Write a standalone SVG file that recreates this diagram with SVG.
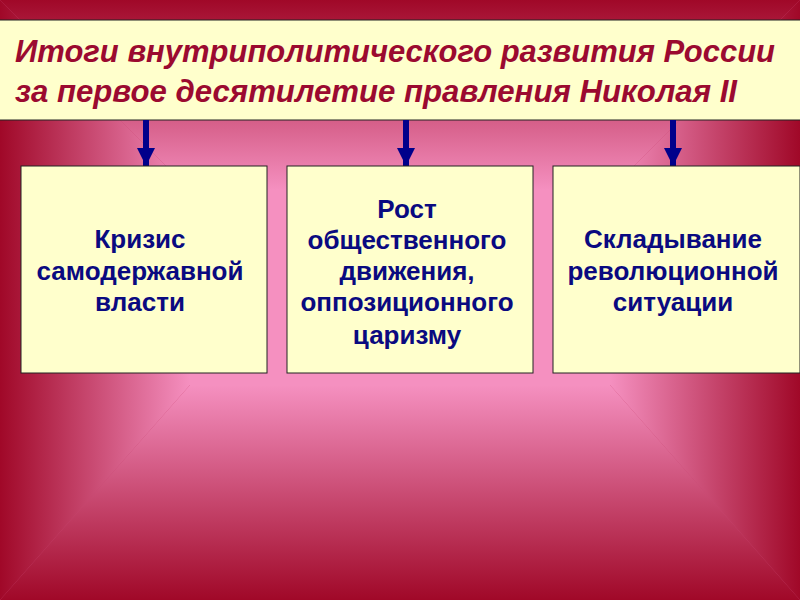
<svg xmlns="http://www.w3.org/2000/svg" width="800" height="600" viewBox="0 0 800 600">
<defs>
<linearGradient id="gT" gradientUnits="userSpaceOnUse" x1="0" y1="0" x2="0" y2="190">
<stop offset="0" stop-color="#A00828"/><stop offset="0.5" stop-color="#CA4C74"/><stop offset="1" stop-color="#F590C0"/>
</linearGradient>
<linearGradient id="gB" gradientUnits="userSpaceOnUse" x1="0" y1="600" x2="0" y2="385">
<stop offset="0" stop-color="#A00828"/><stop offset="0.5" stop-color="#CA4C74"/><stop offset="1" stop-color="#F590C0"/>
</linearGradient>
<linearGradient id="gL" gradientUnits="userSpaceOnUse" x1="0" y1="0" x2="190" y2="0">
<stop offset="0" stop-color="#A00828"/><stop offset="0.5" stop-color="#CA4C74"/><stop offset="1" stop-color="#F590C0"/>
</linearGradient>
<linearGradient id="gR" gradientUnits="userSpaceOnUse" x1="800" y1="0" x2="610" y2="0">
<stop offset="0" stop-color="#A00828"/><stop offset="0.5" stop-color="#CA4C74"/><stop offset="1" stop-color="#F590C0"/>
</linearGradient>
<marker id="ah" viewBox="0 0 10 10" refX="10" refY="5" markerWidth="3" markerHeight="3" orient="auto" markerUnits="strokeWidth">
<path d="M0,0 L10,5 L0,10 Z" fill="#00008B"/>
</marker>
<style>
.box{fill:#FFFFCC;stroke:#222;stroke-width:1}
.t{font-family:"Liberation Sans",Arial,sans-serif;font-weight:bold;font-size:26px;fill:#0A0A80;text-anchor:middle}
.ti{font-family:"Liberation Sans Narrow","Liberation Sans",Arial,sans-serif;font-weight:bold;font-style:italic;font-size:31px;fill:#9B0A30}
.c{stroke:#00008B;stroke-width:6;fill:none}
</style>
</defs>
<g id="background">
<rect width="800" height="600" fill="#C84470"/>
<rect x="190" y="190" width="420" height="195" fill="#F590C0"/>
<polygon points="0,0 800,0 610,190 190,190" fill="url(#gT)"/>
<polygon points="0,600 800,600 610,385 190,385" fill="url(#gB)"/>
<polygon points="0,0 190,190 190,385 0,600" fill="url(#gL)"/>
<polygon points="800,0 610,190 610,385 800,600" fill="url(#gR)"/>
</g>
<g id="title">
<rect x="-1" y="20" width="802" height="100" class="box"/>
<text class="ti" x="15" y="62" textLength="760" lengthAdjust="spacingAndGlyphs">Итоги внутриполитического развития России</text>
<text class="ti" x="15" y="102" textLength="722" lengthAdjust="spacingAndGlyphs">за первое десятилетие правления Николая II</text>
</g>
<g id="connectors">
<line class="c" x1="146" y1="120" x2="146" y2="166" marker-end="url(#ah)"/>
<line class="c" x1="406" y1="120" x2="406" y2="166" marker-end="url(#ah)"/>
<line class="c" x1="673" y1="120" x2="673" y2="166" marker-end="url(#ah)"/>
</g>
<g id="n1">
<rect x="21" y="166" width="246" height="207" class="box"/>
<text class="t" x="140" y="248">Кризис</text>
<text class="t" x="140" y="280">самодержавной</text>
<text class="t" x="140" y="311">власти</text>
</g>
<g id="n2">
<rect x="287" y="166" width="246" height="207" class="box"/>
<text class="t" x="407" y="218">Рост</text>
<text class="t" x="407" y="249">общественного</text>
<text class="t" x="407" y="280">движения,</text>
<text class="t" x="407" y="311">оппозиционного</text>
<text class="t" x="407" y="344">царизму</text>
</g>
<g id="n3">
<rect x="553" y="166" width="247" height="207" class="box"/>
<text class="t" x="673" y="248">Складывание</text>
<text class="t" x="673" y="280">революционной</text>
<text class="t" x="673" y="311">ситуации</text>
</g>
</svg>
